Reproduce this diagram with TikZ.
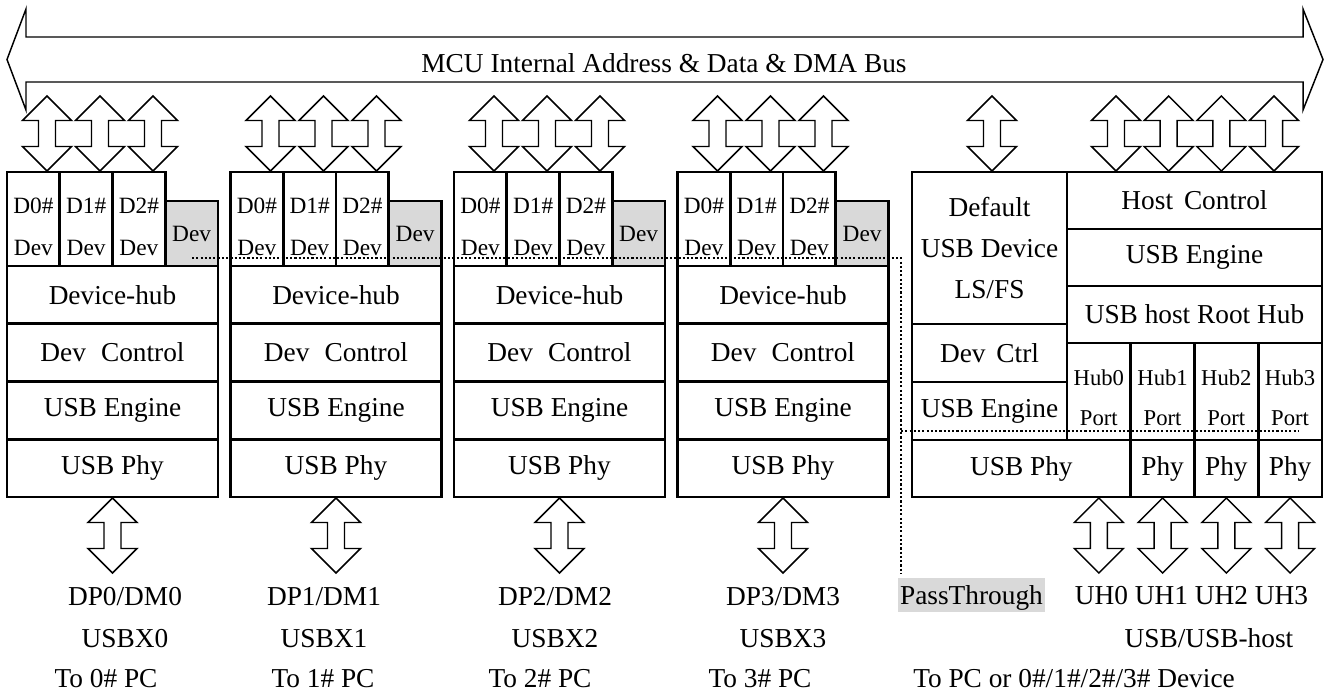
\documentclass[tikz,border=0pt]{standalone}
\usepackage{fontspec}
\setmainfont{Liberation Serif}

\tikzset{
  cell/.style={draw,line width=2pt,inner sep=0pt,align=center,
    font=\fontsize{20.5}{31}\selectfont},
  dcell/.style={cell,font=\fontsize{17.5}{31.5}\selectfont},
  shaded/.style={fill=black!15},
  lbl/.style={anchor=base,inner sep=0pt,font=\fontsize{20.5}{24}\selectfont},
  passline/.style={line width=1.4pt,dash pattern=on 1.6pt off 1.6pt},
  bidir/.pic={\draw[line width=1.1pt,fill=white,line join=miter] (0,-37.5) -- (24.5,-13)
    -- (8.5,-13) -- (8.5,13) -- (24.5,13) -- (0,37.5) -- (-24.5,13)
    -- (-8.5,13) -- (-8.5,-13) -- (-24.5,-13) -- cycle;}
}

\begin{document}
\begin{tikzpicture}[x=0.75pt,y=-0.75pt]
  \useasboundingbox (0,0) rectangle (1324,693);
  % bus
  \draw[line width=1.1pt] (7,59.5) -- (26,9) -- (26,37) -- (1303,37) --
  (1303,9) -- (1323,59.5) -- (1303,110) -- (1303,82) -- (26,82) --
  (26,110) -- cycle;
  \node[lbl] (bus) at (664,72) {MCU Internal Address \& Data \& DMA Bus};
  % device modules
  \foreach \i/\dx/\tx in {0/125/106,1/324/323,2/555/540,3/783/760}{
    \pgfmathsetmacro\mx{7+223.5*\i}
    \foreach \j in {0,1,2}{
      \node[dcell,minimum width=39.56pt,minimum height=70.5pt,text height=55pt]
        (dz-\i-\j) at (\mx+26.375+52.75*\j,219) {D\j\#\\Dev};
      \pic at (\mx+40+53*\j,133.5) {bidir};
    }
    \node[dcell,shaded,minimum width=39.56pt,minimum height=48.75pt]
      (ddev-\i) at (\mx+184.625,233.5) {Dev};
    \node[cell,minimum width=158.25pt,minimum height=43.31pt]
      (dhub-\i) at (\mx+105.5,294.9) {Device-hub};
    \node[cell,minimum width=158.25pt,minimum height=43.31pt]
      (dctl-\i) at (\mx+105.5,352.6) {Dev\hspace{.55em}Control};
    \node[cell,minimum width=158.25pt,minimum height=43.31pt]
      (deng-\i) at (\mx+105.5,410.4) {USB Engine};
    \node[cell,minimum width=158.25pt,minimum height=43.31pt]
      (dphy-\i) at (\mx+105.5,468.1) {USB Phy};
    \pic at (\mx+105.5,535.5) {bidir};
    \node[lbl] (dp-\i) at (\dx,605) {DP\i/DM\i};
    \node[lbl] (usbx-\i) at (\dx,647) {USBX\i};
    \node[lbl] (pc-\i) at (\tx,687) {To \i\# PC};
  }
  % host module
  \node[cell,minimum width=116.25pt,minimum height=114pt]
    (defdev) at (989.5,248) {Default\\USB Device\\LS/FS};
  \node[cell,minimum width=116.25pt,minimum height=43.5pt]
    (devctrl) at (989.5,353) {Dev\hspace{.4em}Ctrl};
  \node[cell,minimum width=116.25pt,minimum height=43.5pt]
    (heng0) at (989.5,411) {USB Engine};
  \node[cell,minimum width=191.25pt,minimum height=42.75pt]
    (hostctrl) at (1194.5,200.5) {Host\hspace{.4em}Control};
  \node[cell,minimum width=191.25pt,minimum height=42.75pt]
    (heng1) at (1194.5,257.5) {USB Engine};
  \node[cell,minimum width=191.25pt,minimum height=42.75pt]
    (roothub) at (1194.5,314.5) {USB host Root Hub};
  \foreach \k in {0,1,2,3}{
    \node[dcell,minimum width=47.81pt,minimum height=72.75pt,text height=51pt,
      font=\fontsize{17}{30}\selectfont]
      (hport-\k) at (1098.875+63.75*\k,391.5) {Hub\k\\Port};
    \pic at (1098.875+63.75*\k,535.5) {bidir};
  }
  \node[cell,minimum width=164.06pt,minimum height=42.75pt]
    (hphy0) at (1021.375,468.5) {USB Phy};
  \foreach \k in {1,2,3}{
    \node[cell,minimum width=47.81pt,minimum height=42.75pt]
      (hphy\k) at (1098.875+63.75*\k,468.5) {Phy};
  }
  \foreach \x in {992,1116,1168.7,1221.4,1274}{
    \pic at (\x,133.5) {bidir};
  }
  \node[lbl,anchor=center,shaded,inner xsep=1.5pt,minimum height=25.5pt,
    text height=19pt,text depth=4.5pt]
    (pass) at (971.5,595) {PassThrough};
  \node[lbl] (uh) at (1191.5,604) {UH0 UH1 UH2 UH3};
  \node[lbl] (usbhost) at (1209,647) {USB/USB-host};
  \node[lbl] (pcdev) at (1074,687) {To PC or 0\#/1\#/2\#/3\# Device};
  % pass through
  \coordinate (pt-a) at (192,258);
  \coordinate (pt-b) at (901,258);
  \coordinate (pt-c) at (901,431);
  \coordinate (pt-d) at (1298,431);
  \draw[passline] (pt-a) -- (pt-b) -- ([yshift=3.5pt]pt-b |- pass.north);
  \draw[passline] (pt-c) -- (pt-d);
\end{tikzpicture}
\end{document}
